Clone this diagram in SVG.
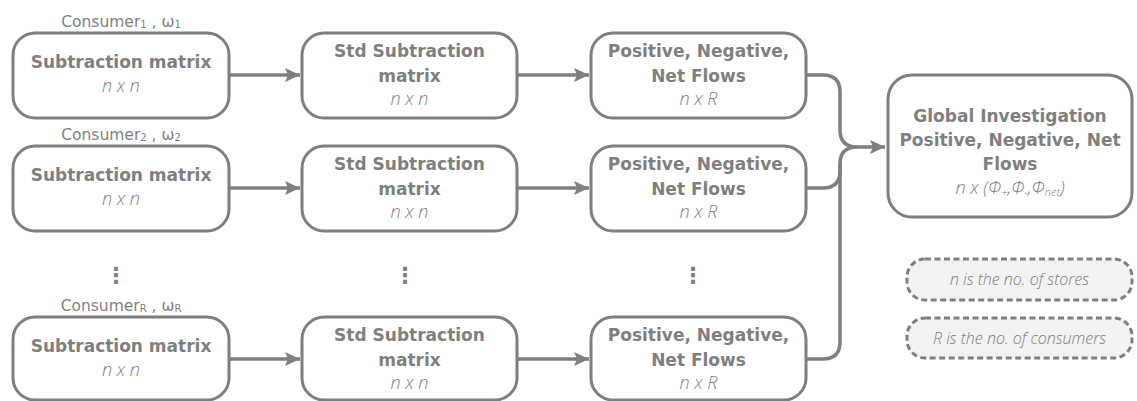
<svg xmlns="http://www.w3.org/2000/svg" width="1137" height="401" viewBox="0 0 1137 401">
  <defs>
    <style>
      .box{fill:#ffffff;stroke:#7f7f7f;stroke-width:3}
      .note{fill:#f2f2f2;stroke:#7f7f7f;stroke-width:3;stroke-dasharray:6 3.5}
      .b{font-family:"DejaVu Sans","Liberation Sans",sans-serif;font-weight:bold;font-size:17px;fill:#7f7f7f;text-anchor:middle}
      .i{font-family:"Open Sans","DejaVu Sans",sans-serif;font-style:italic;font-weight:300;font-size:18px;fill:#7f7f7f;text-anchor:middle}
      .ni{font-family:"Open Sans","DejaVu Sans",sans-serif;font-style:italic;font-weight:300;font-size:16px;fill:#7f7f7f;text-anchor:middle}
      .lbl{font-family:"DejaVu Sans","Liberation Sans",sans-serif;font-size:15.5px;fill:#7f7f7f;text-anchor:middle}
      .dots{font-family:"DejaVu Sans",sans-serif;font-weight:bold;font-size:22px;fill:#7f7f7f;text-anchor:middle}
      .ln{fill:none;stroke:#7f7f7f;stroke-width:3.5}
    </style>
    <marker id="ah" markerUnits="userSpaceOnUse" markerWidth="16" markerHeight="16" viewBox="0 0 16 16" refX="15" refY="8" orient="auto">
      <path d="M0,1 L15,8 L0,15 L3,8 Z" fill="#7f7f7f"/>
    </marker>
  </defs>
  <rect width="1137" height="401" fill="#ffffff"/>

  <g id="connectors">
    <line class="ln" x1="229" y1="75" x2="300" y2="75" marker-end="url(#ah)"/>
    <line class="ln" x1="517" y1="75" x2="589" y2="75" marker-end="url(#ah)"/>
    <line class="ln" x1="229" y1="188" x2="300" y2="188" marker-end="url(#ah)"/>
    <line class="ln" x1="517" y1="188" x2="589" y2="188" marker-end="url(#ah)"/>
    <line class="ln" x1="229" y1="359" x2="300" y2="359" marker-end="url(#ah)"/>
    <line class="ln" x1="517" y1="359" x2="589" y2="359" marker-end="url(#ah)"/>
    <path class="ln" d="M806,75 H823 Q840,75 840,92 V130 Q840,147 857,147 H885" marker-end="url(#ah)"/>
    <path class="ln" d="M806,188 H823 Q840,188 840,171 V164 Q840,147 857,147"/>
    <path class="ln" d="M806,359 H823 Q840,359 840,342 V164"/>
  </g>

  <g id="labels">
    <text class="lbl" x="121" y="27">Consumer<tspan font-size="10" dy="1">1</tspan><tspan dy="-1"> , ω</tspan><tspan font-size="10" dy="1">1</tspan></text>
    <text class="lbl" x="121" y="140">Consumer<tspan font-size="10" dy="1">2</tspan><tspan dy="-1"> , ω</tspan><tspan font-size="10" dy="1">2</tspan></text>
    <text class="lbl" x="121" y="311">Consumer<tspan font-size="10" dy="1">R</tspan><tspan dy="-1"> , ω</tspan><tspan font-size="10" dy="1">R</tspan></text>
    <text class="dots" x="116" y="283">⋮</text>
    <text class="dots" x="405" y="283">⋮</text>
    <text class="dots" x="693" y="283">⋮</text>
  </g>

  <g id="sub1">
    <rect class="box" x="13" y="33" width="216" height="85" rx="22"/>
    <text class="b" x="121" y="68">Subtraction matrix</text>
    <text class="i" x="121" y="92">n x n</text>
  </g>
  <g id="std1">
    <rect class="box" x="302" y="33" width="215" height="85" rx="22"/>
    <text class="b" x="409.5" y="57">Std Subtraction</text>
    <text class="b" x="409.5" y="82">matrix</text>
    <text class="i" x="409.5" y="105">n x n</text>
  </g>
  <g id="flow1">
    <rect class="box" x="591" y="33" width="215" height="85" rx="22"/>
    <text class="b" x="698.5" y="57">Positive, Negative,</text>
    <text class="b" x="698.5" y="82">Net Flows</text>
    <text class="i" x="698.5" y="105">n x R</text>
  </g>

  <g id="sub2">
    <rect class="box" x="13" y="146" width="216" height="85" rx="22"/>
    <text class="b" x="121" y="181">Subtraction matrix</text>
    <text class="i" x="121" y="205">n x n</text>
  </g>
  <g id="std2">
    <rect class="box" x="302" y="146" width="215" height="85" rx="22"/>
    <text class="b" x="409.5" y="170">Std Subtraction</text>
    <text class="b" x="409.5" y="195">matrix</text>
    <text class="i" x="409.5" y="218">n x n</text>
  </g>
  <g id="flow2">
    <rect class="box" x="591" y="146" width="215" height="85" rx="22"/>
    <text class="b" x="698.5" y="170">Positive, Negative,</text>
    <text class="b" x="698.5" y="195">Net Flows</text>
    <text class="i" x="698.5" y="218">n x R</text>
  </g>

  <g id="subR">
    <rect class="box" x="13" y="317" width="216" height="83" rx="22"/>
    <text class="b" x="121" y="352">Subtraction matrix</text>
    <text class="i" x="121" y="376">n x n</text>
  </g>
  <g id="stdR">
    <rect class="box" x="302" y="317" width="215" height="83" rx="22"/>
    <text class="b" x="409.5" y="341">Std Subtraction</text>
    <text class="b" x="409.5" y="366">matrix</text>
    <text class="i" x="409.5" y="389">n x n</text>
  </g>
  <g id="flowR">
    <rect class="box" x="591" y="317" width="215" height="83" rx="22"/>
    <text class="b" x="698.5" y="341">Positive, Negative,</text>
    <text class="b" x="698.5" y="366">Net Flows</text>
    <text class="i" x="698.5" y="389">n x R</text>
  </g>

  <g id="global">
    <rect class="box" x="888" y="75" width="244" height="142" rx="24"/>
    <text class="b" x="1010" y="122">Global Investigation</text>
    <text class="b" x="1010" y="146">Positive, Negative, Net</text>
    <text class="b" x="1010" y="170">Flows</text>
    <text class="i" x="1010" y="194">n x (Φ<tspan font-size="11" dy="2">+</tspan><tspan dy="-2">,Φ</tspan><tspan font-size="11" dy="2">-</tspan><tspan dy="-2">,Φ</tspan><tspan font-size="11" dy="2">net</tspan><tspan dy="-2">)</tspan></text>
  </g>

  <g id="note-n">
    <rect class="note" x="907" y="259" width="225" height="41" rx="18"/>
    <text class="ni" x="1019.5" y="285">n is the no. of stores</text>
  </g>
  <g id="note-R">
    <rect class="note" x="907" y="318" width="225" height="40" rx="18"/>
    <text class="ni" x="1019.5" y="344">R is the no. of consumers</text>
  </g>
</svg>
